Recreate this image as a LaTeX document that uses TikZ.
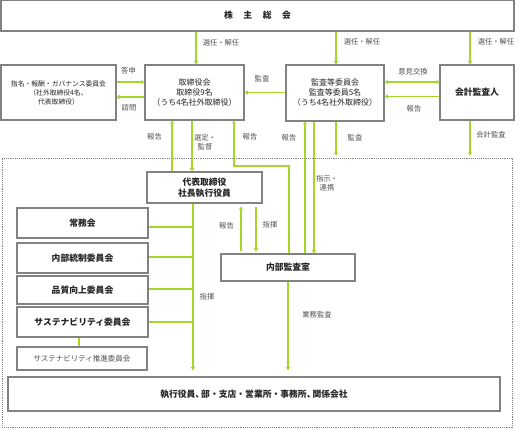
\documentclass[tikz,border=0pt]{standalone}
\usepackage{fontspec}
\setmainfont{Noto Sans CJK JP}
\usetikzlibrary{arrows.meta}
\definecolor{grn}{RGB}{166,214,40}
\definecolor{bd}{RGB}{130,130,130}
\definecolor{lbl}{RGB}{80,80,80}
\tikzset{
  box/.style={draw=bd, line width=1.1pt, fill=white, inner sep=0pt, align=center, text=black!85, font=\fontsize{8}{10}\selectfont},
  bbox/.style={box, font=\fontsize{8.8}{11}\selectfont\bfseries},
  conn/.style={draw=grn, line width=1.5pt},
  arr/.style={conn, -{Triangle[length=3.2pt,width=4pt]}},
  darr/.style={conn, {Triangle[length=3.2pt,width=4pt]}-{Triangle[length=3.2pt,width=4pt]}},
  lab/.style={text=lbl, font=\fontsize{7.3}{9.5}\selectfont, inner sep=0pt, align=center},
}
\begin{document}
\begin{tikzpicture}[x=1pt,y=-1pt]
\useasboundingbox (0,0) rectangle (520,430);
% group
\node[draw=bd, densely dotted, line width=0.9pt, minimum width=510pt, minimum height=269pt, inner sep=0pt] (grp) at (257,292.5) {};
% boxes
\node[bbox, minimum width=513pt, minimum height=31pt] (top) at (257.5,15.5) {株\hspace{1.2em}主\hspace{1.2em}総\hspace{1.2em}会};
\node[box, font=\fontsize{6.8}{9}\selectfont, minimum width=115pt, minimum height=55pt] (nom) at (58.5,92.5) {指名・報酬・ガバナンス委員会\\（社外取締役4名、\\代表取締役）};
\node[box, minimum width=99pt, minimum height=55pt] (tori) at (194.5,92.5) {取締役会\\取締役9名\\（うち4名社外取締役）};
\node[box, minimum width=98pt, minimum height=56pt] (kansa) at (335,93) {監査等委員会\\監査等委員5名\\（うち4名社外取締役）};
\node[bbox, minimum width=74pt, minimum height=55pt] (kaikei) at (477,92.5) {会計監査人};
\node[bbox, minimum width=115pt, minimum height=31pt] (ceo) at (204.5,187.5) {代表取締役\\社長執行役員};
\node[bbox, minimum width=134pt, minimum height=27pt] (naibu) at (288,267.5) {内部監査室};
\node[bbox, minimum width=131pt, minimum height=30pt] (jomu) at (82.5,223) {常務会};
\node[bbox, minimum width=131pt, minimum height=30pt] (tousei) at (82.5,258) {内部統制委員会};
\node[bbox, minimum width=131pt, minimum height=28pt] (hin) at (82.5,290) {品質向上委員会};
\node[bbox, minimum width=131pt, minimum height=30pt] (sus) at (82.5,322) {サステナビリティ委員会};
\node[box, text=lbl, font=\fontsize{7.5}{9}\selectfont, minimum width=130pt, minimum height=23pt] (susp) at (82,358.5) {サステナビリティ推進委員会};
\node[bbox, minimum width=492pt, minimum height=34pt] (exec) at (254,394) {執行役員、\hspace{-0.35em}部・支店・営業所・事務所、\hspace{-0.35em}関係会社};
% connectors from top
\draw[arr] ([xshift=1.5]tori.north |- top.south) -- ([xshift=1.5]tori.north);
\draw[arr] ([xshift=1]kansa.north |- top.south) -- ([xshift=1]kansa.north);
\draw[arr] ([xshift=-7]kaikei.north |- top.south) -- ([xshift=-7]kaikei.north);
% nom <-> tori
\draw[arr] ([yshift=10.5]nom.east) -- ([yshift=10.5]nom.east -| tori.west);
\draw[arr] ([yshift=-4.5]tori.west) -- ([yshift=-4.5]tori.west -| nom.east);
% kansa -> tori
\draw[arr] ([yshift=0.5]kansa.west) -- ([yshift=0.5]kansa.west -| tori.east);
% kansa <-> kaikei
\draw[darr] ([yshift=11]kansa.east) -- ([yshift=11]kansa.east -| kaikei.west);
\draw[arr] ([yshift=-4]kaikei.west) -- ([yshift=-4]kaikei.west -| kansa.east);
% kaikei -> group, kansa -> group
\draw[arr] ([xshift=-7]kaikei.south) -- ([xshift=-7,yshift=2]kaikei.south |- grp.north);
\draw[arr] ([xshift=1]kansa.south) -- ([xshift=1,yshift=2]kansa.south |- grp.north);
% tori <-> ceo
\draw[arr] ([xshift=-32.5]ceo.north) -- ([xshift=-32.5]ceo.north |- tori.south);
\draw[arr] ([xshift=-12.5]ceo.north |- tori.south) -- ([xshift=-12.5]ceo.north);
% naibu -> tori (report)
\coordinate (k1) at (234,166);
\draw[arr] ([xshift=1]naibu.north) |- (k1) -- (k1 |- tori.south);
% naibu <-> kansa
\draw[arr] ([xshift=17]naibu.north) -- ([xshift=17]naibu.north |- kansa.south);
\draw[arr] ([xshift=26]naibu.north |- kansa.south) -- ([xshift=26]naibu.north);
% ceo <-> naibu
\draw[arr, shorten <=2pt, shorten >=3pt] ([xshift=-47]naibu.north) -- ([xshift=-47]naibu.north |- ceo.south);
\draw[arr, shorten <=3pt, shorten >=2pt] ([xshift=-32]naibu.north |- ceo.south) -- ([xshift=-32]naibu.north);
% trunk
\coordinate (t) at ([xshift=-11.5]ceo.south);
\draw[arr, shorten >=6pt] (t) -- (t |- exec.north);
\draw[conn] ([yshift=-4]jomu.east) -- ([yshift=-4]jomu.east -| t);
\draw[conn] ([yshift=1]tousei.east) -- ([yshift=1]tousei.east -| t);
\draw[conn] ([yshift=1]hin.east) -- ([yshift=1]hin.east -| t);
\draw[conn] (sus.east) -- (sus.east -| t);
\draw[conn] ([xshift=-3.5]sus.south) -- ([xshift=-3.5]sus.south |- susp.north);
% naibu -> exec
\draw[arr, shorten >=6pt] (naibu.south) -- (naibu.south |- exec.north);
% labels
\node[lab] (l1) at (221,43) {選任・解任};
\node[lab] (l2) at (362,42) {選任・解任};
\node[lab] (l3) at (496,42) {選任・解任};
\node[lab] (l4) at (128.5,71) {答申};
\node[lab] (l5) at (129,108) {諮問};
\node[lab] (l6) at (262,79) {監査};
\node[lab] (l7) at (413,72) {意見交換};
\node[lab] (l8) at (414,109) {報告};
\node[lab] (l9) at (491,135) {会計監査};
\node[lab] (l10) at (355,138) {監査};
\node[lab] (l11) at (289,138) {報告};
\node[lab] (l12) at (154.5,137) {報告};
\node[lab] (l13) at (205,142) {選定・\\監督};
\node[lab] (l14) at (250,137) {報告};
\node[lab] (l15) at (327,183) {指示・\\連携};
\node[lab] (l16) at (226.5,226) {報告};
\node[lab] (l17) at (270,225) {指揮};
\node[lab] (l18) at (207,297) {指揮};
\node[lab] (l19) at (317,315) {業務監査};
\end{tikzpicture}
\end{document}
